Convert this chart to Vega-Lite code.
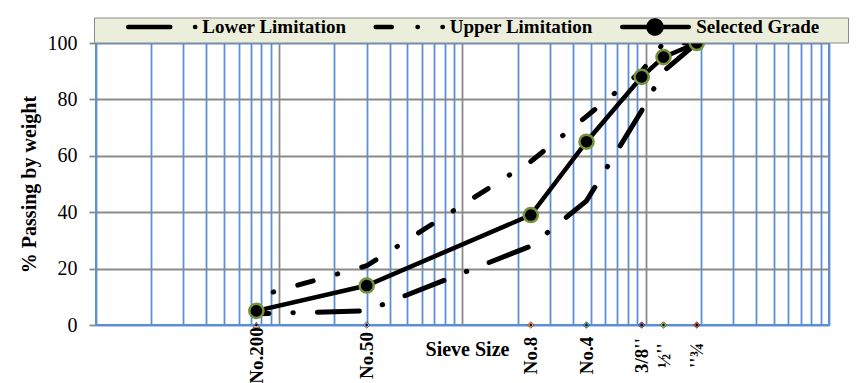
{
  "$schema": "https://vega.github.io/schema/vega-lite/v6.json",
  "width": 733,
  "height": 282,
  "autosize": {"type": "none"},
  "padding": {"left": 96, "top": 43, "right": 29, "bottom": 58},
  "background": "white",
  "config": {
    "font": "Liberation Serif",
    "view": {"stroke": "#5B8FD6", "strokeWidth": 2},
    "legend": {
      "fillColor": "#ECEEDC",
      "strokeColor": "#8A8A8A",
      "padding": 0
    }
  },
  "datasets": {
    "grad": [
      {"series": "Lower Limitation", "size": 0.075, "pass": 4},
      {"series": "Lower Limitation", "size": 0.3, "pass": 5},
      {"series": "Lower Limitation", "size": 2.36, "pass": 28},
      {"series": "Lower Limitation", "size": 4.75, "pass": 44},
      {"series": "Lower Limitation", "size": 9.5, "pass": 76},
      {"series": "Lower Limitation", "size": 12.5, "pass": 90},
      {"series": "Lower Limitation", "size": 19, "pass": 100},
      {"series": "Upper Limitation", "size": 0.075, "pass": 10},
      {"series": "Upper Limitation", "size": 0.3, "pass": 21},
      {"series": "Upper Limitation", "size": 2.36, "pass": 58},
      {"series": "Upper Limitation", "size": 4.75, "pass": 74},
      {"series": "Upper Limitation", "size": 9.5, "pass": 90},
      {"series": "Upper Limitation", "size": 12.5, "pass": 100},
      {"series": "Upper Limitation", "size": 19, "pass": 100},
      {"series": "Selected Grade", "size": 0.075, "pass": 5},
      {"series": "Selected Grade", "size": 0.3, "pass": 14},
      {"series": "Selected Grade", "size": 2.36, "pass": 39},
      {"series": "Selected Grade", "size": 4.75, "pass": 65},
      {"series": "Selected Grade", "size": 9.5, "pass": 88},
      {"series": "Selected Grade", "size": 12.5, "pass": 95},
      {"series": "Selected Grade", "size": 19, "pass": 100}
    ],
    "sieves": [
      {"sieve": "No.200", "size": 0.075},
      {"sieve": "No.50", "size": 0.3},
      {"sieve": "No.8", "size": 2.36},
      {"sieve": "No.4", "size": 4.75},
      {"sieve": "3/8''", "size": 9.5},
      {"sieve": "1/2''", "size": 12.5},
      {"sieve": "3/4''", "size": 19}
    ]
  },
  "layer": [
    {
      "data": {"name": "grad"},
      "transform": [{"filter": "datum.series === 'Lower Limitation'"}],
      "mark": {"type": "line", "strokeWidth": 5, "strokeCap": "round", "color": "black", "strokeDashOffset": 29.5, "clip": false},
      "encoding": {
        "x": {
          "field": "size", "type": "quantitative",
          "scale": {"type": "log", "domain": [0.01, 100], "nice": false},
          "axis": {
            "title": "Sieve Size",
            "titleFont": "Liberation Serif", "titleFontSize": 20, "titleFontWeight": "bold", "titleColor": "black",
            "titleY": 30, "titleX": 371, "titleBaseline": "alphabetic", "titleAlign": "center",
            "values": [0.01,0.02,0.03,0.04,0.05,0.06,0.07,0.08,0.09,0.1,0.2,0.3,0.4,0.5,0.6,0.7,0.8,0.9,1,2,3,4,5,6,7,8,9,10,20,30,40,50,60,70,80,90,100,0.075,2.36,4.75,9.5,12.5,19],
            "grid": true,
            "gridWidth": 1.8,
            "gridColor": {"condition": {"test": "datum.value==0.1||datum.value==1||datum.value==10", "value": "#8A8A8A"}, "value": "#5B8FD6"},
            "gridOpacity": {"condition": {"test": "indexof([0.075,2.36,4.75,9.5,12.5,19], datum.value) >= 0", "value": 0}, "value": 1},
            "domain": false,
            "ticks": false,
            "tickSize": 0,
            "labelOverlap": false,
            "labelFlush": false,
            "labelBound": false,
            "labelAngle": 270,
            "labelAlign": "center",
            "labelBaseline": "middle",
            "labelPadding": 30,
            "labelFont": "Liberation Serif",
            "labelFontSize": 19,
            "labelFontWeight": "bold",
            "labelColor": "black",
            "labelExpr": "datum.value==0.075?'No.200':datum.value==0.3?'No.50':datum.value==2.36?'No.8':datum.value==4.75?'No.4':datum.value==9.5?\"3/8''\":datum.value==12.5?\"½''\":datum.value==19?\"''¾\":''"
          }
        },
        "y": {
          "field": "pass", "type": "quantitative",
          "scale": {"domain": [0, 100], "nice": false},
          "axis": {
            "title": "% Passing by weight",
            "titleFont": "Liberation Serif", "titleFontSize": 20, "titleFontWeight": "bold", "titleColor": "black",
            "titlePadding": 8,
            "values": [0, 20, 40, 60, 80, 100],
            "grid": true,
            "gridWidth": 1.8,
            "gridColor": {"condition": {"test": "datum.value==0||datum.value==100", "value": "#5B8FD6"}, "value": "#8A8A8A"},
            "domain": false,
            "ticks": true,
            "tickSize": 7,
            "tickWidth": 1.8,
            "tickColor": "#8A8A8A",
            "labelPadding": 12,
            "labelFont": "Liberation Serif",
            "labelFontSize": 20,
            "labelColor": "black"
          }
        },
        "strokeDash": {
          "field": "series", "type": "nominal",
          "scale": {
            "domain": ["Lower Limitation", "Upper Limitation", "Selected Grade"],
            "range": [[42, 24, 0.5, 24], [16, 25, 0.5, 25], [1, 0]]
          },
          "legend": {
            "orient": "none",
            "legendX": -2,
            "legendY": -25.5,
            "direction": "horizontal",
            "title": "\u00a0",
            "titleOrient": "left",
            "titlePadding": 28.5,
            "titleFontSize": 1,
            "padding": 0,
            "fillColor": "#ECEEDC",
            "strokeColor": "#8A8A8A",
            "gridAlign": "none",
            "symbolType": "stroke",
            "symbolSize": 144,
            "symbolStrokeWidth": 4.5,
            "symbolStrokeColor": "black",
            "labelFont": "Liberation Serif",
            "labelFontWeight": "bold",
            "labelFontSize": 19,
            "labelColor": "black",
            "labelOffset": 60.75,
            "labelLimit": 400,
            "columnPadding": 19.5,
            "labelExpr": "datum.label == 'Selected Grade' ? datum.label + '\u2800\u2800' : datum.label",
            "encode": {
              "symbols": {
                "update": {
                  "shape": [
                    {"test": "datum.value === 'Lower Limitation'", "value": "M-0.625,0H6.625M10.5,0H10.55"},
                    {"test": "datum.value === 'Upper Limitation'", "value": "M-0.625,0H2.458M6.333,0H6.383M10.5,0H10.55"},
                    {"value": "M-0.625,0H10.458M5.916,0A1.083,1.083,0,1,1,3.75,0A1.083,1.083,0,1,1,5.916,0Z"}
                  ],
                  "fill": [
                    {"test": "datum.value === 'Selected Grade'", "value": "black"},
                    {"value": "transparent"}
                  ],
                  "stroke": {"value": "black"},
                  "strokeWidth": {"value": 4.5},
                  "strokeDash": {"value": [1, 0]},
                  "strokeCap": {"value": "round"},
                  "opacity": {"value": 1},
                  "size": {"value": 144}
                }
              }
            }
          }
        }
      }
    },
    {
      "data": {"name": "grad"},
      "transform": [{"filter": "datum.series === 'Upper Limitation'"}],
      "mark": {"type": "line", "strokeWidth": 5, "strokeCap": "round", "color": "black", "strokeDash": [16, 25, 0.5, 25], "strokeDashOffset": 23.5, "clip": false},
      "encoding": {
        "x": {"field": "size", "type": "quantitative"},
        "y": {"field": "pass", "type": "quantitative"}
      }
    },
    {
      "data": {"name": "grad"},
      "transform": [{"filter": "datum.series === 'Selected Grade'"}],
      "mark": {"type": "line", "strokeWidth": 4.5, "strokeCap": "round", "color": "black", "clip": false},
      "encoding": {
        "x": {"field": "size", "type": "quantitative"},
        "y": {"field": "pass", "type": "quantitative"}
      }
    },
    {
      "data": {"name": "grad"},
      "transform": [{"filter": "datum.series === 'Selected Grade'"}],
      "mark": {"type": "point", "shape": "circle", "filled": true, "fill": "black", "stroke": "#77933C", "strokeWidth": 2.5, "size": 200, "opacity": 1, "clip": false},
      "encoding": {
        "x": {"field": "size", "type": "quantitative"},
        "y": {"field": "pass", "type": "quantitative"}
      }
    },
    {
      "data": {"name": "sieves"},
      "mark": {"type": "point", "filled": true, "size": 45, "opacity": 1, "stroke": "#333333", "strokeWidth": 0.6, "clip": false},
      "encoding": {
        "x": {"field": "size", "type": "quantitative"},
        "y": {"datum": 0, "type": "quantitative"},
        "fill": {
          "field": "sieve", "type": "nominal",
          "scale": {
            "domain": ["No.200", "No.50", "No.8", "No.4", "3/8''", "1/2''", "3/4''"],
            "range": ["#E6B9B8", "#95B3D7", "#F79646", "#4BACC6", "#8064A2", "#9BBB59", "#C0504D"]
          },
          "legend": null
        },
        "shape": {
          "field": "sieve", "type": "nominal",
          "scale": {
            "domain": ["No.200", "No.50", "No.8", "No.4", "3/8''", "1/2''", "3/4''"],
            "range": ["triangle-up", "diamond", "diamond", "diamond", "diamond", "diamond", "diamond"]
          },
          "legend": null
        }
      }
    },
    {
      "data": {"name": "sieves"},
      "mark": {"type": "point", "shape": "circle", "filled": true, "color": "black", "size": 6, "opacity": 1, "clip": false},
      "encoding": {
        "x": {"field": "size", "type": "quantitative"},
        "y": {"datum": 0, "type": "quantitative"}
      }
    }
  ]
}
